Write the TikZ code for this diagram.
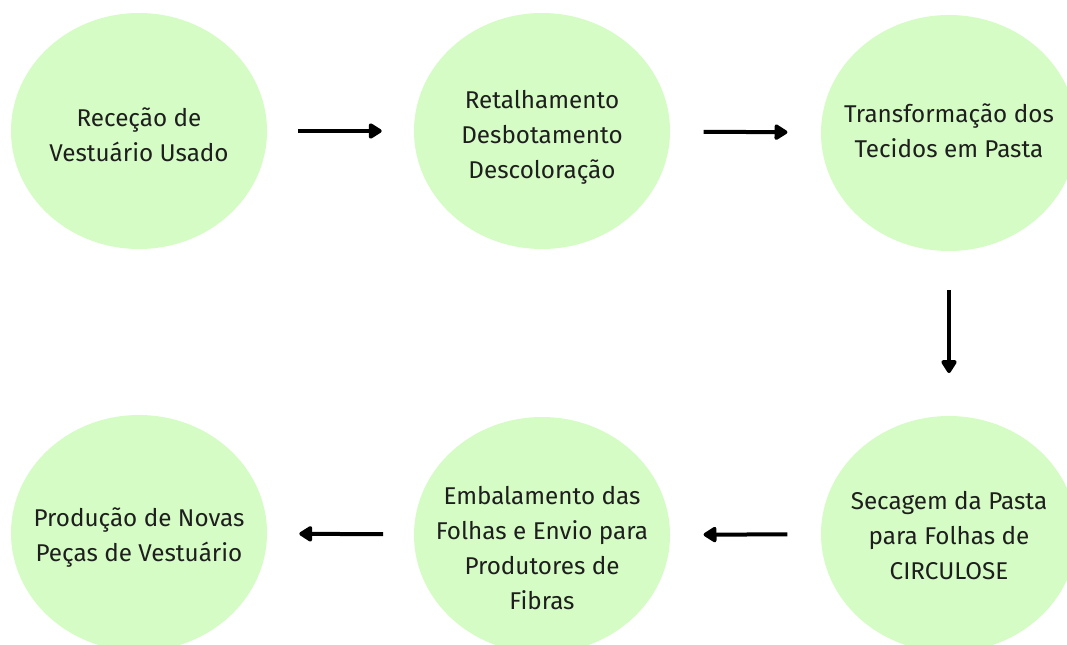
\documentclass[tikz,border=0pt]{standalone}
\usepackage{fontspec}
\setmainfont{Fira Sans}
\usetikzlibrary{arrows.meta,shapes.geometric}
\definecolor{stepgreen}{RGB}{212,252,196}
\definecolor{steptext}{RGB}{30,30,30}
% text centred on the ellipse, #1 lowers it
\newcommand{\steplines}[2][0pt]{\smash{\makebox[0pt]{\raisebox{\dimexpr-0.3em-#1\relax}{\begin{tabular}{@{}c@{}}#2\end{tabular}}}}}
\tikzset{
	stepcircle/.style={ellipse, fill=stepgreen, draw=none, minimum width=192pt, minimum height=177pt, inner sep=0pt, text=steptext, font=\fontsize{18.2}{26.25}\selectfont},
	steparrow/.style={line width=3pt, -{Triangle[width=13pt,length=11pt,round]}}
}

\begin{document}
\begin{tikzpicture}[x=0.75pt, y=-0.75pt]
		%%%%% START %%%%%
		
		\clip (0, 0) rectangle (1067, 645);
		
		\node[stepcircle] (rececao) at (139, 131) {\steplines[3pt]{Receção de\\Vestuário Usado}};
		\node[stepcircle] (retalho) at (542, 131) {\steplines[3pt]{Retalhamento\\Desbotamento\\Descoloração}};
		\node[stepcircle] (pasta) at (949, 133) {\steplines[-1.5pt]{Transformação dos\\Tecidos em Pasta}};
		
		\node[stepcircle] (producao) at (139, 533) {\steplines[1.5pt]{Produção de Novas\\Peças de Vestuário}};
		\node[stepcircle] (embalamento) at (542, 535) {\steplines[10pt]{Embalamento das\\Folhas e Envio para\\Produtores de\\Fibras}};
		\node[stepcircle] (secagem) at (949, 534) {\steplines[1.5pt]{Secagem da Pasta\\para Folhas de\\CIRCULOSE}};
		
		\draw[steparrow, shorten <=23pt, shorten >=24pt] (rececao) -- (retalho);
		\draw[steparrow, shorten <=25pt, shorten >=25pt] (retalho) -- (pasta);
		\draw[steparrow, shorten <=29pt, shorten >=32pt] (pasta) -- (secagem);
		\draw[steparrow, shorten <=25pt, shorten >=25pt] (secagem) -- (embalamento);
		\draw[steparrow, shorten <=23pt, shorten >=24pt] (embalamento) -- (producao);
		
		%%%%% END %%%%%
	\end{tikzpicture}
\end{document}
